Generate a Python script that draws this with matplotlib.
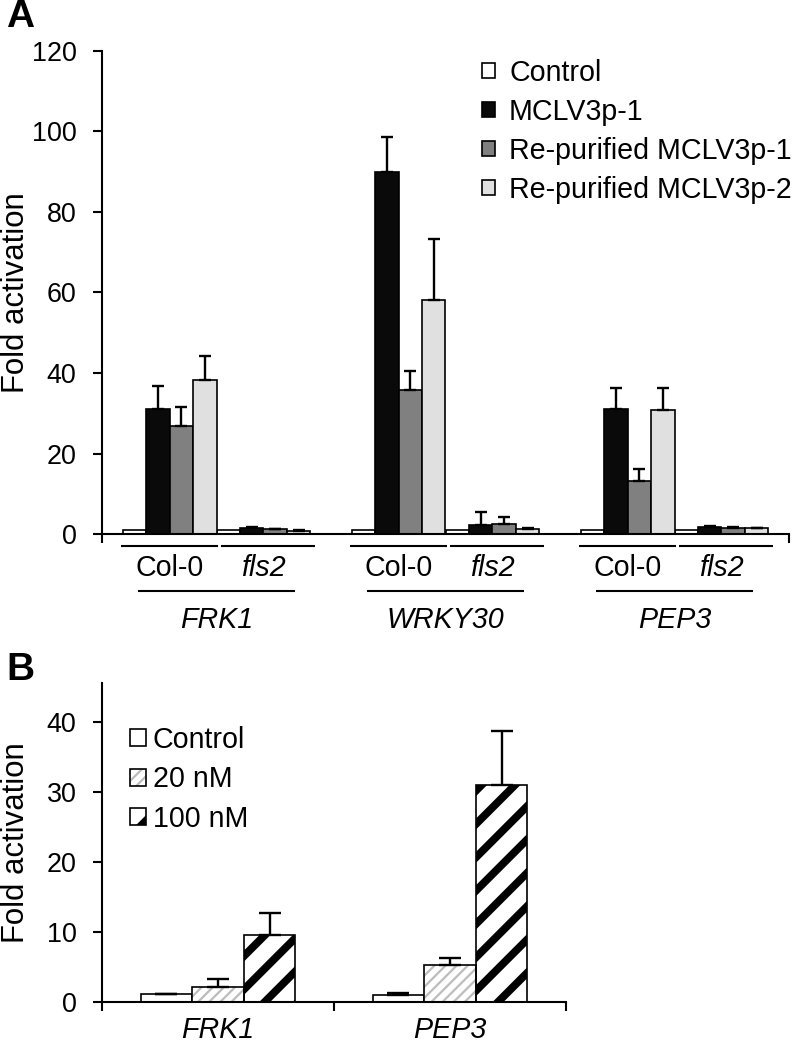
import numpy as np
import matplotlib
matplotlib.use('Agg')
import matplotlib.pyplot as plt
import matplotlib.transforms as mtrans
from matplotlib.legend_handler import HandlerTuple

plt.rcParams['font.family'] = ['Liberation Sans', 'DejaVu Sans']
plt.rcParams['hatch.linewidth'] = 2.8

# ---------------- Panel A data ----------------
genes_a = ['FRK1', 'WRKY30', 'PEP3']
genotypes_a = ['Col-0', 'fls2']
treatments_a = ['Control', 'MCLV3p-1', 'Re-purified MCLV3p-1', 'Re-purified MCLV3p-2']
# order: FRK1 Col-0, FRK1 fls2, WRKY30 Col-0, WRKY30 fls2, PEP3 Col-0, PEP3 fls2
control_a = [1.0, 1.0, 1.0, 0.9, 1.0, 1.0]
control_a_err = [0.0, 0.0, 0.0, 0.0, 0.0, 0.0]
mclv_a = [31.0, 1.6, 90.0, 2.2, 31.0, 1.8]
mclv_a_err = [5.8, 0.2, 8.6, 3.3, 5.3, 0.2]
rep1_a = [26.8, 1.2, 35.8, 2.4, 13.2, 1.6]
rep1_a_err = [4.7, 0.1, 4.7, 1.9, 3.0, 0.1]
rep2_a = [38.3, 0.8, 58.1, 1.3, 30.8, 1.4]
rep2_a_err = [6.0, 0.1, 15.2, 0.3, 5.5, 0.1]
yticks_a = [0, 20, 40, 60, 80, 100, 120]

# ---------------- Panel B data ----------------
genes_b = ['FRK1', 'PEP3']
treatments_b = ['Control', '20 nM', '100 nM']
control_b = [1.05, 1.0]
control_b_err = [0.0, 0.2]
nm20_b = [2.1, 5.2]
nm20_b_err = [1.1, 1.1]
nm100_b = [9.5, 30.9]
nm100_b_err = [3.1, 7.8]
yticks_b = [0, 10, 20, 30, 40]

W, H = 797, 1052
fig = plt.figure(figsize=(W / 200, H / 200), dpi=200)

AX_LW = 0.75
FS = 10.3

def style_axes(ax):
    for s in ['top', 'right']:
        ax.spines[s].set_visible(False)
    for s in ['left', 'bottom']:
        ax.spines[s].set_linewidth(AX_LW)
    ax.tick_params(axis='both', direction='out', length=3.2, width=AX_LW,
                   labelsize=9.7, pad=6)

# ================= Panel A =================
axA = fig.add_axes([102 / W, 1 - 534 / H, 687 / W, 483 / H])
style_axes(axA)
axA.set_xlim(0, 3)
axA.set_ylim(0, 120)
axA.set_yticks(yticks_a)
axA.set_xticks([0, 3])
axA.set_xticklabels([])

w = 0.1026
px = 1 / 229.0
colors_a = ['white', '#0a0a0a', '#808080', '#e0e0e0']
series_a = [(control_a, control_a_err), (mclv_a, mclv_a_err),
            (rep1_a, rep1_a_err), (rep2_a, rep2_a_err)]
handles_a = []
for t, ((vals, errs), c) in enumerate(zip(series_a, colors_a)):
    xs = [gi + 0.5 - 4 * w + (4 * g + t + 0.5) * w
          for gi in range(len(genes_a)) for g in range(len(genotypes_a))]
    err = None
    if any(e > 0 for e in errs):
        err = [np.zeros(len(errs)), np.array(errs)]
    bc = axA.bar(xs, vals, width=w, color=c, edgecolor='black', linewidth=0.6,
                 yerr=err, error_kw=dict(elinewidth=0.85, capthick=0.85, capsize=2.3,
                                         ecolor='black'), zorder=2)
    handles_a.append(bc)

transA = mtrans.blended_transform_factory(axA.transData, axA.transAxes)
for gi, gene in enumerate(genes_a):
    x0 = gi + 0.5 - 4 * w
    xm = x0 + 4 * w
    x1 = x0 + 8 * w
    axA.plot([x0 - 2 * px, xm + 1 * px], [-0.0248, -0.0248], transform=transA,
             color='black', lw=AX_LW, clip_on=False, solid_capstyle='butt')
    axA.plot([xm + 4 * px, x1 + 5 * px], [-0.0248, -0.0248], transform=transA,
             color='black', lw=AX_LW, clip_on=False, solid_capstyle='butt')
    axA.text((x0 + xm) / 2, -0.0704, genotypes_a[0], transform=transA,
             ha='center', va='center', fontsize=FS)
    axA.text((xm + x1) / 2, -0.0704, genotypes_a[1], transform=transA,
             ha='center', va='center', fontsize=FS, style='italic')
    axA.plot([x0 + 15 * px, x1 - 15 * px], [-0.118, -0.118], transform=transA,
             color='black', lw=AX_LW, clip_on=False, solid_capstyle='butt')
    axA.text(gi + 0.5, -0.178, gene, transform=transA, ha='center', va='center',
             fontsize=FS, style='italic')

axA.set_ylabel('Fold activation', fontsize=11.2)
axA.yaxis.set_label_coords(-0.104, 0.5)

axA.legend(handles_a, treatments_a, loc='upper left', bbox_to_anchor=(0.553, 1 - 8 / 483),
           frameon=False, fontsize=FS, handlelength=0.45, handleheight=0.45,
           handletextpad=0.5, labelspacing=0.38, borderpad=0, borderaxespad=0)

fig.text(6 / W, 1 - 17 / H, 'A', fontsize=14, fontweight='bold', ha='left', va='center')

# ================= Panel B =================
axB = fig.add_axes([102 / W, 1 - 1001.7 / H, 464 / W, 318.7 / H])
style_axes(axB)
axB.set_xlim(0, 2)
axB.set_ylim(0, 45.5)
axB.set_yticks(yticks_b)
axB.set_xticks([0, 1, 2])
axB.set_xticklabels([])

wb = 0.222
xs_c = [gi + 0.5 - wb for gi in range(len(genes_b))]
xs_20 = [gi + 0.5 for gi in range(len(genes_b))]
xs_100 = [gi + 0.5 + wb for gi in range(len(genes_b))]
ekw = dict(elinewidth=0.85, capthick=0.85, capsize=4.0, ecolor='black')

bc_c = axB.bar(xs_c, control_b, width=wb, color='white', edgecolor='black', linewidth=0.6,
               yerr=[np.zeros(2), np.array(control_b_err)], error_kw=ekw, zorder=2)
bc_20h = axB.bar(xs_20, nm20_b, width=wb, color='white', edgecolor='#bcbcbc', linewidth=0,
                 hatch='//////', zorder=2)
for p in bc_20h.patches:
    try:
        p.set_hatch_linewidth(0.8)
    except AttributeError:
        pass
bc_20e = axB.bar(xs_20, nm20_b, width=wb, color='none', edgecolor='black', linewidth=0.6,
                 yerr=[np.zeros(2), np.array(nm20_b_err)], error_kw=ekw, zorder=3)
bc_100 = axB.bar(xs_100, nm100_b, width=wb, color='white', edgecolor='black', linewidth=0.6,
                 hatch='//', yerr=[np.zeros(2), np.array(nm100_b_err)], error_kw=ekw, zorder=2)

transB = mtrans.blended_transform_factory(axB.transData, axB.transAxes)
for gi, gene in enumerate(genes_b):
    axB.text(gi + 0.5, -0.089, gene, transform=transB, ha='center', va='center',
             fontsize=FS, style='italic')

axB.set_ylabel('Fold activation', fontsize=11.2)
axB.yaxis.set_label_coords(-0.153, 0.5)

legB = axB.legend([bc_c, (bc_20h, bc_20e), bc_100], treatments_b,
                  handler_map={tuple: HandlerTuple(ndivide=1)},
                  loc='upper left', bbox_to_anchor=(28 / 464, 1 - 43 / 318.7),
                  frameon=False, fontsize=FS, handlelength=0.55, handleheight=0.55,
                  handletextpad=0.25, labelspacing=0.4, borderpad=0, borderaxespad=0)
for h in legB.legend_handles:
    try:
        if h.get_hatch() == '//////':
            h.set_hatch_linewidth(0.8)
    except AttributeError:
        pass

fig.text(6 / W, 1 - 670 / H, 'B', fontsize=14, fontweight='bold', ha='left', va='center')

fig.savefig('out.png', dpi=200)
